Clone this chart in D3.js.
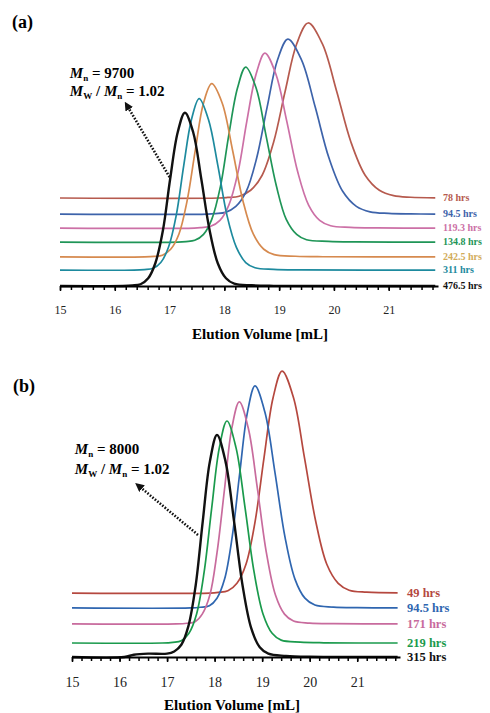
<!DOCTYPE html>
<html>
<head>
<meta charset="utf-8">
<script src="https://cdn.jsdelivr.net/npm/d3@7"></script>
<style>
  body { margin: 0; background: #fff; }
  svg text { font-family: "Liberation Serif", "Times New Roman", serif; }
</style>
</head>
<body>
<svg id="chart" width="490" height="713"></svg>
<script>
// elution volume tick labels (mL)
var volumeTicks = [15, 16, 17, 18, 19, 20, 21];

// panel (a): series names, baseline offsets (intensity units), traces [mL, intensity]
var namesA = ["78 hrs", "94.5 hrs", "119.3 hrs", "134.8 hrs", "242.5 hrs", "311 hrs", "476.5 hrs"];
var offsetsA = [50.3, 41.1, 33.1, 25.1, 16.6, 9.1, 0];
var tracesA = [
  [[15,0],[17.9,0],[18.06,0.3],[18.27,1],[18.48,4.4],[18.69,13],[18.9,32],[19.11,61],[19.32,88],[19.53,100],[19.79,88],[20.05,61],[20.31,32],[20.57,13],[20.83,4.4],[21.09,1.3],[21.4,0.4],[21.85,0.1]],
  [[15,0],[17.7,0],[17.84,0.3],[18.02,1],[18.21,4.4],[18.4,13],[18.59,32],[18.78,61],[18.97,88],[19.16,100],[19.41,88],[19.66,61],[19.91,32],[20.16,13],[20.41,4.4],[20.66,1.3],[21.0,0.4],[21.4,0.1],[21.85,0]],
  [[15,0],[17.45,0],[17.58,0.3],[17.75,1],[17.92,4.4],[18.08,13],[18.25,32],[18.41,61],[18.58,88],[18.74,100],[18.94,88],[19.14,61],[19.34,32],[19.54,13],[19.74,4.4],[19.94,1.3],[20.3,0.4],[20.8,0.1],[21.85,0]],
  [[15,0],[17.15,0],[17.3,0.3],[17.46,1],[17.62,4.4],[17.77,13],[17.93,32],[18.08,61],[18.24,88],[18.39,100],[18.58,88],[18.76,61],[18.95,32],[19.13,13],[19.32,4.4],[19.5,1.3],[19.9,0.4],[20.4,0.1],[21.85,0]],
  [[15,0],[16.55,0],[16.72,0.3],[16.87,1],[17.02,4.4],[17.17,13],[17.32,32],[17.47,61],[17.62,88],[17.77,99],[17.96,88],[18.15,61],[18.34,32],[18.53,13],[18.72,4.4],[18.91,1.3],[19.3,0.4],[19.8,0.1],[21.85,0]],
  [[15,0],[16.35,0],[16.54,0.3],[16.7,1],[16.84,4.3],[16.98,13],[17.12,31],[17.26,60],[17.4,86],[17.54,98],[17.71,86],[17.88,60],[18.05,31],[18.22,13],[18.39,4.3],[18.56,1.3],[18.9,0.4],[19.4,0.1],[21.85,0]],
  [[15,0],[16.15,0],[16.32,0.3],[16.47,1],[16.61,4.4],[16.74,13],[16.88,32],[17.01,61],[17.15,88],[17.28,99],[17.43,88],[17.58,61],[17.73,32],[17.88,13],[18.03,4.4],[18.18,1.3],[18.5,0.4],[18.9,0.1],[21.85,0]]
];

// panel (b)
var namesB = ["49 hrs", "94.5 hrs", "171 hrs", "219 hrs", "315 hrs"];
var offsetsB = [28.8, 22.1, 14.9, 6.3, 0];
var tracesB = [
  [[15,0],[17.9,0],[18.08,0.3],[18.28,1],[18.47,4.4],[18.66,13],[18.85,32],[19.04,61],[19.23,88],[19.42,100],[19.66,88],[19.89,61],[20.13,32],[20.36,13],[20.6,4.4],[20.83,1.3],[21.2,0.4],[21.85,0.1]],
  [[15,0],[17.5,0],[17.7,0.3],[17.89,1],[18.05,4.4],[18.21,13],[18.37,32],[18.53,61],[18.69,88],[18.85,100],[19.06,88],[19.27,61],[19.48,32],[19.69,13],[19.9,4.4],[20.11,1.3],[20.5,0.4],[21,0.1],[21.85,0]],
  [[15,0],[17.2,0],[17.42,0.3],[17.59,1],[17.74,4.4],[17.9,13],[18.05,32],[18.21,61],[18.36,88],[18.52,100],[18.71,88],[18.9,61],[19.09,32],[19.28,13],[19.47,4.4],[19.66,1.3],[20.0,0.4],[20.5,0.1],[21.85,0]],
  [[15,0],[16.9,0],[17.12,0.3],[17.3,1],[17.46,4.4],[17.62,13],[17.78,32],[17.94,61],[18.1,88],[18.26,100],[18.45,88],[18.64,61],[18.83,32],[19.02,13],[19.21,4.4],[19.4,1.3],[19.8,0.4],[20.3,0.1],[21.85,0]],
  [[15,0],[16.1,0],[16.3,1],[16.6,1.5],[17.0,1.5],[17.15,2.5],[17.3,5.5],[17.45,14],[17.6,32],[17.75,61],[17.9,88],[18.05,100],[18.23,88],[18.41,61],[18.59,32],[18.77,13],[18.95,4.4],[19.13,1.5],[19.5,0.5],[20.0,0.1],[21.85,0]]
];

var lineColorsA = ["#b65a4e", "#3d63aa", "#cc70a6", "#1f9557", "#d68a4f", "#1d8a9e", "#111111"];
var labelColorsA = ["#b65a4e", "#3d63aa", "#cc70a6", "#1f9557", "#d2ac5a", "#1d8a9e", "#111111"];
var lineColorsB = ["#b5483f", "#2f66b0", "#c86b9d", "#1a9a4c", "#111111"];

var svg = d3.select("#chart");

svg.append("defs").append("marker")
  .attr("id", "arrow")
  .attr("viewBox", "0 0 10 10")
  .attr("refX", 3).attr("refY", 5)
  .attr("markerWidth", 3.4).attr("markerHeight", 3.4)
  .attr("markerUnits", "strokeWidth")
  .attr("orient", "auto-start-reverse")
  .append("path").attr("d", "M0,0L10,5L0,10z").attr("fill", "#111");

function drawPanel(opt) {
  var g = svg.append("g");
  var x = d3.scaleLinear().domain([15, 21.9]).range(opt.xRange);
  var y = d3.scaleLinear().domain([0, 100]).range(opt.yRange);

  var line = d3.line().curve(d3.curveCatmullRom.alpha(0.5));

  opt.traces.forEach(function(tr, i) {
    var off = opt.offsets[i];
    g.append("path")
      .attr("d", line(tr.map(function(p) { return [x(p[0]), y(p[1] + off)]; })))
      .attr("fill", "none")
      .attr("stroke", opt.colors[i])
      .attr("stroke-width", i === opt.traces.length - 1 ? 2.4 : 1.7);

    g.append("text")
      .attr("x", opt.labelX)
      .attr("y", y(off) + 1)
      .attr("dominant-baseline", "middle")
      .attr("font-size", opt.labelSize)
      .attr("font-weight", "bold")
      .attr("fill", opt.labelColors[i])
      .text(opt.names[i]);
  });

  // x axis: minor ticks every 0.2 mL, labels on integers
  var minor = d3.range(15, 21.81, 0.2);
  var ax = g.append("g").attr("transform", "translate(0," + opt.yRange[0] + ")")
    .call(d3.axisBottom(x).tickValues(minor).tickSize(4).tickSizeOuter(0).tickFormat(""));
  ax.select(".domain").attr("stroke-width", 2);
  ax.selectAll(".tick line").attr("stroke-width", 1.5);

  var lab = g.append("g").attr("transform", "translate(0," + opt.yRange[0] + ")")
    .call(d3.axisBottom(x).tickValues(volumeTicks).tickSize(5).tickPadding(opt.tickPad).tickFormat(d3.format("d")));
  lab.select(".domain").remove();
  lab.selectAll(".tick line").attr("stroke-width", 1.5);
  lab.selectAll("text").attr("font-size", opt.tickSize).attr("fill", "#222")
    .style("font-family", "'Liberation Serif', 'Times New Roman', serif");

  g.append("text")
    .attr("x", opt.titleX).attr("y", opt.titleY)
    .attr("text-anchor", "middle")
    .attr("font-size", 15).attr("font-weight", "bold")
    .text("Elution Volume [mL]");

  g.append("text")
    .attr("x", opt.tagPos[0]).attr("y", opt.tagPos[1])
    .attr("font-size", 18).attr("font-weight", "bold")
    .text(opt.tag);

  // annotation
  var t1 = g.append("text").attr("x", x(opt.note[0])).attr("y", y(opt.note[1]))
    .attr("font-size", 15).attr("font-weight", "bold");
  t1.append("tspan").attr("font-style", "italic").text("M");
  t1.append("tspan").attr("font-size", 9).attr("dy", 3).text("n");
  t1.append("tspan").attr("dy", -3).text(" = " + opt.mn);

  var t2 = g.append("text").attr("x", x(opt.note[0])).attr("y", y(opt.note[2]))
    .attr("font-size", 15).attr("font-weight", "bold");
  t2.append("tspan").attr("font-style", "italic").text("M");
  t2.append("tspan").attr("font-size", 9).attr("dy", 3).text("W");
  t2.append("tspan").attr("dy", -3).text(" / ");
  t2.append("tspan").attr("font-style", "italic").text("M");
  t2.append("tspan").attr("font-size", 9).attr("dy", 3).text("n");
  t2.append("tspan").attr("dy", -3).text(" = " + opt.pdi);

  g.append("line")
    .attr("x1", x(opt.arrow[2])).attr("y1", y(opt.arrow[3]))
    .attr("x2", x(opt.arrow[0])).attr("y2", y(opt.arrow[1]))
    .attr("stroke", "#111").attr("stroke-width", 2.6)
    .attr("stroke-dasharray", "1.6,1.6")
    .attr("marker-end", "url(#arrow)");
}

drawPanel({
  xRange: [60, 438], yRange: [286, 111],
  traces: tracesA, offsets: offsetsA, names: namesA,
  colors: lineColorsA, labelColors: labelColorsA,
  labelX: 443, labelSize: 10, tickSize: 12, tickPad: 14,
  titleX: 260, titleY: 339, tag: "(a)", tagPos: [12, 28],
  note: [15.18, 118.9, 108.6], mn: "9700", pdi: "1.02",
  arrow: [16.24, 102.3, 17.0, 62.3]
});

drawPanel({
  xRange: [72, 400], yRange: [657, 435],
  traces: tracesB, offsets: offsetsB, names: namesB,
  colors: lineColorsB, labelColors: lineColorsB,
  labelX: 407, labelSize: 12.5, tickSize: 14, tickPad: 15,
  titleX: 232, titleY: 710, tag: "(b)", tagPos: [13, 392],
  note: [15.06, 91.4, 82.4], mn: "8000", pdi: "1.02",
  arrow: [16.43, 76.6, 17.65, 55]
});
</script>
</body>
</html>
